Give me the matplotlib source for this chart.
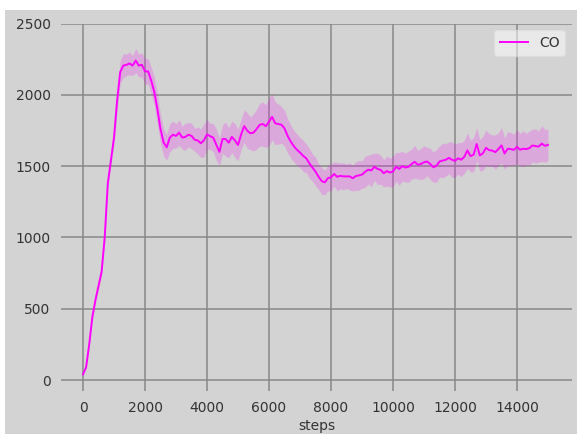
import numpy as np
import matplotlib as mpl
import matplotlib.pyplot as plt
from matplotlib.patches import Rectangle
mpl.use('Agg')

# 数据: 每100步一个点
steps = np.arange(0, 15001, 100)
co_mean = [
    40, 90, 250, 440, 560, 660, 760, 1000, 1380, 1540,
    1700, 1960, 2160, 2205, 2210, 2220, 2205, 2240, 2205, 2210,
    2164, 2164, 2100, 2020, 1900, 1760, 1665, 1632, 1700, 1720,
    1712, 1735, 1700, 1705, 1720, 1712, 1685, 1680, 1660, 1680,
    1722, 1710, 1700, 1650, 1600, 1690, 1690, 1664, 1705, 1680,
    1648, 1722, 1780, 1748, 1730, 1735, 1760, 1790, 1795, 1780,
    1812, 1845, 1800, 1795, 1790, 1765, 1712, 1672, 1640, 1615,
    1595, 1572, 1555, 1520, 1490, 1462, 1425, 1395, 1386, 1416,
    1421, 1445, 1425, 1432, 1428, 1428, 1428, 1415, 1430, 1435,
    1440, 1460, 1475, 1470, 1495, 1480, 1474, 1450, 1465, 1455,
    1462, 1495, 1480, 1500, 1490, 1495, 1515, 1530, 1510, 1515,
    1527, 1532, 1515, 1492, 1502, 1532, 1539, 1544, 1558, 1545,
    1537, 1555, 1545, 1565, 1610, 1570, 1580, 1655, 1575, 1590,
    1628, 1612, 1609, 1598, 1620, 1645, 1588, 1622, 1619, 1614,
    1635, 1615, 1622, 1619, 1626, 1645, 1640, 1637, 1658, 1642,
    1649,
]
co_std = [
    5, 10, 15, 20, 20, 25, 25, 30, 35, 40,
    50, 70, 80, 85, 75, 80, 70, 85, 80, 85,
    90, 90, 95, 100, 110, 100, 95, 90, 100, 95,
    85, 90, 80, 95, 85, 90, 80, 95, 100, 115,
    105, 90, 100, 110, 95, 100, 120, 105, 110, 120,
    110, 105, 115, 125, 115, 130, 140, 150, 155, 150,
    170, 160, 150, 140, 130, 125, 120, 115, 110, 110,
    105, 110, 100, 105, 95, 100, 90, 95, 85, 90,
    95, 85, 100, 90, 95, 85, 95, 90, 100, 105,
    95, 110, 100, 115, 95, 110, 100, 95, 105, 100,
    110, 100, 115, 105, 100, 110, 105, 115, 100, 110,
    115, 100, 110, 105, 115, 110, 120, 115, 110, 125,
    115, 110, 120, 115, 125, 110, 120, 115, 110, 120,
    125, 115, 110, 120, 115, 125, 110, 120, 115, 110,
    120, 115, 125, 110, 120, 115, 120, 110, 125, 115,
    110,
]

bg = '#d3d3d3'
fig = plt.figure(figsize=(5.77, 4.34), dpi=100, facecolor='white')
# 灰色背景 (左上角留白边)
fig.add_artist(Rectangle((5 / 577, 0), 1, 1 - 10 / 434, transform=fig.transFigure,
                         facecolor=bg, edgecolor='none', zorder=-10))
ax = fig.add_axes([61 / 577, 43 / 434, 511 / 577, 367.5 / 434])
ax.set_facecolor(bg)
for s in ax.spines.values():
    s.set_visible(False)

mean = np.array(co_mean)
std = np.array(co_std)
ax.fill_between(steps, mean - std, mean + std, color='#ff00ff', alpha=0.2, linewidth=0)
ax.plot(steps, mean, color='#ff00ff', lw=1.4, label='CO')

ax.set_xlim(-710, 15774)
ax.set_ylim(-77, 2500)
ax.set_xticks(range(0, 14001, 2000))
ax.set_yticks(range(0, 2501, 500))
ax.grid(True, color='#888888', lw=1.1)
ax.set_axisbelow(True)
ax.tick_params(axis='both', length=0, labelsize=10, labelcolor='#333333', pad=7.5)
ax.set_xlabel('steps', fontsize=10, color='#333333', labelpad=2.5)

leg = ax.legend(loc='upper right', fontsize=10, framealpha=0.5, facecolor='white',
                edgecolor='#dddddd', fancybox=True)
for t in leg.get_texts():
    t.set_color('#333333')

fig.savefig('out.png', dpi=100, facecolor=fig.get_facecolor())
